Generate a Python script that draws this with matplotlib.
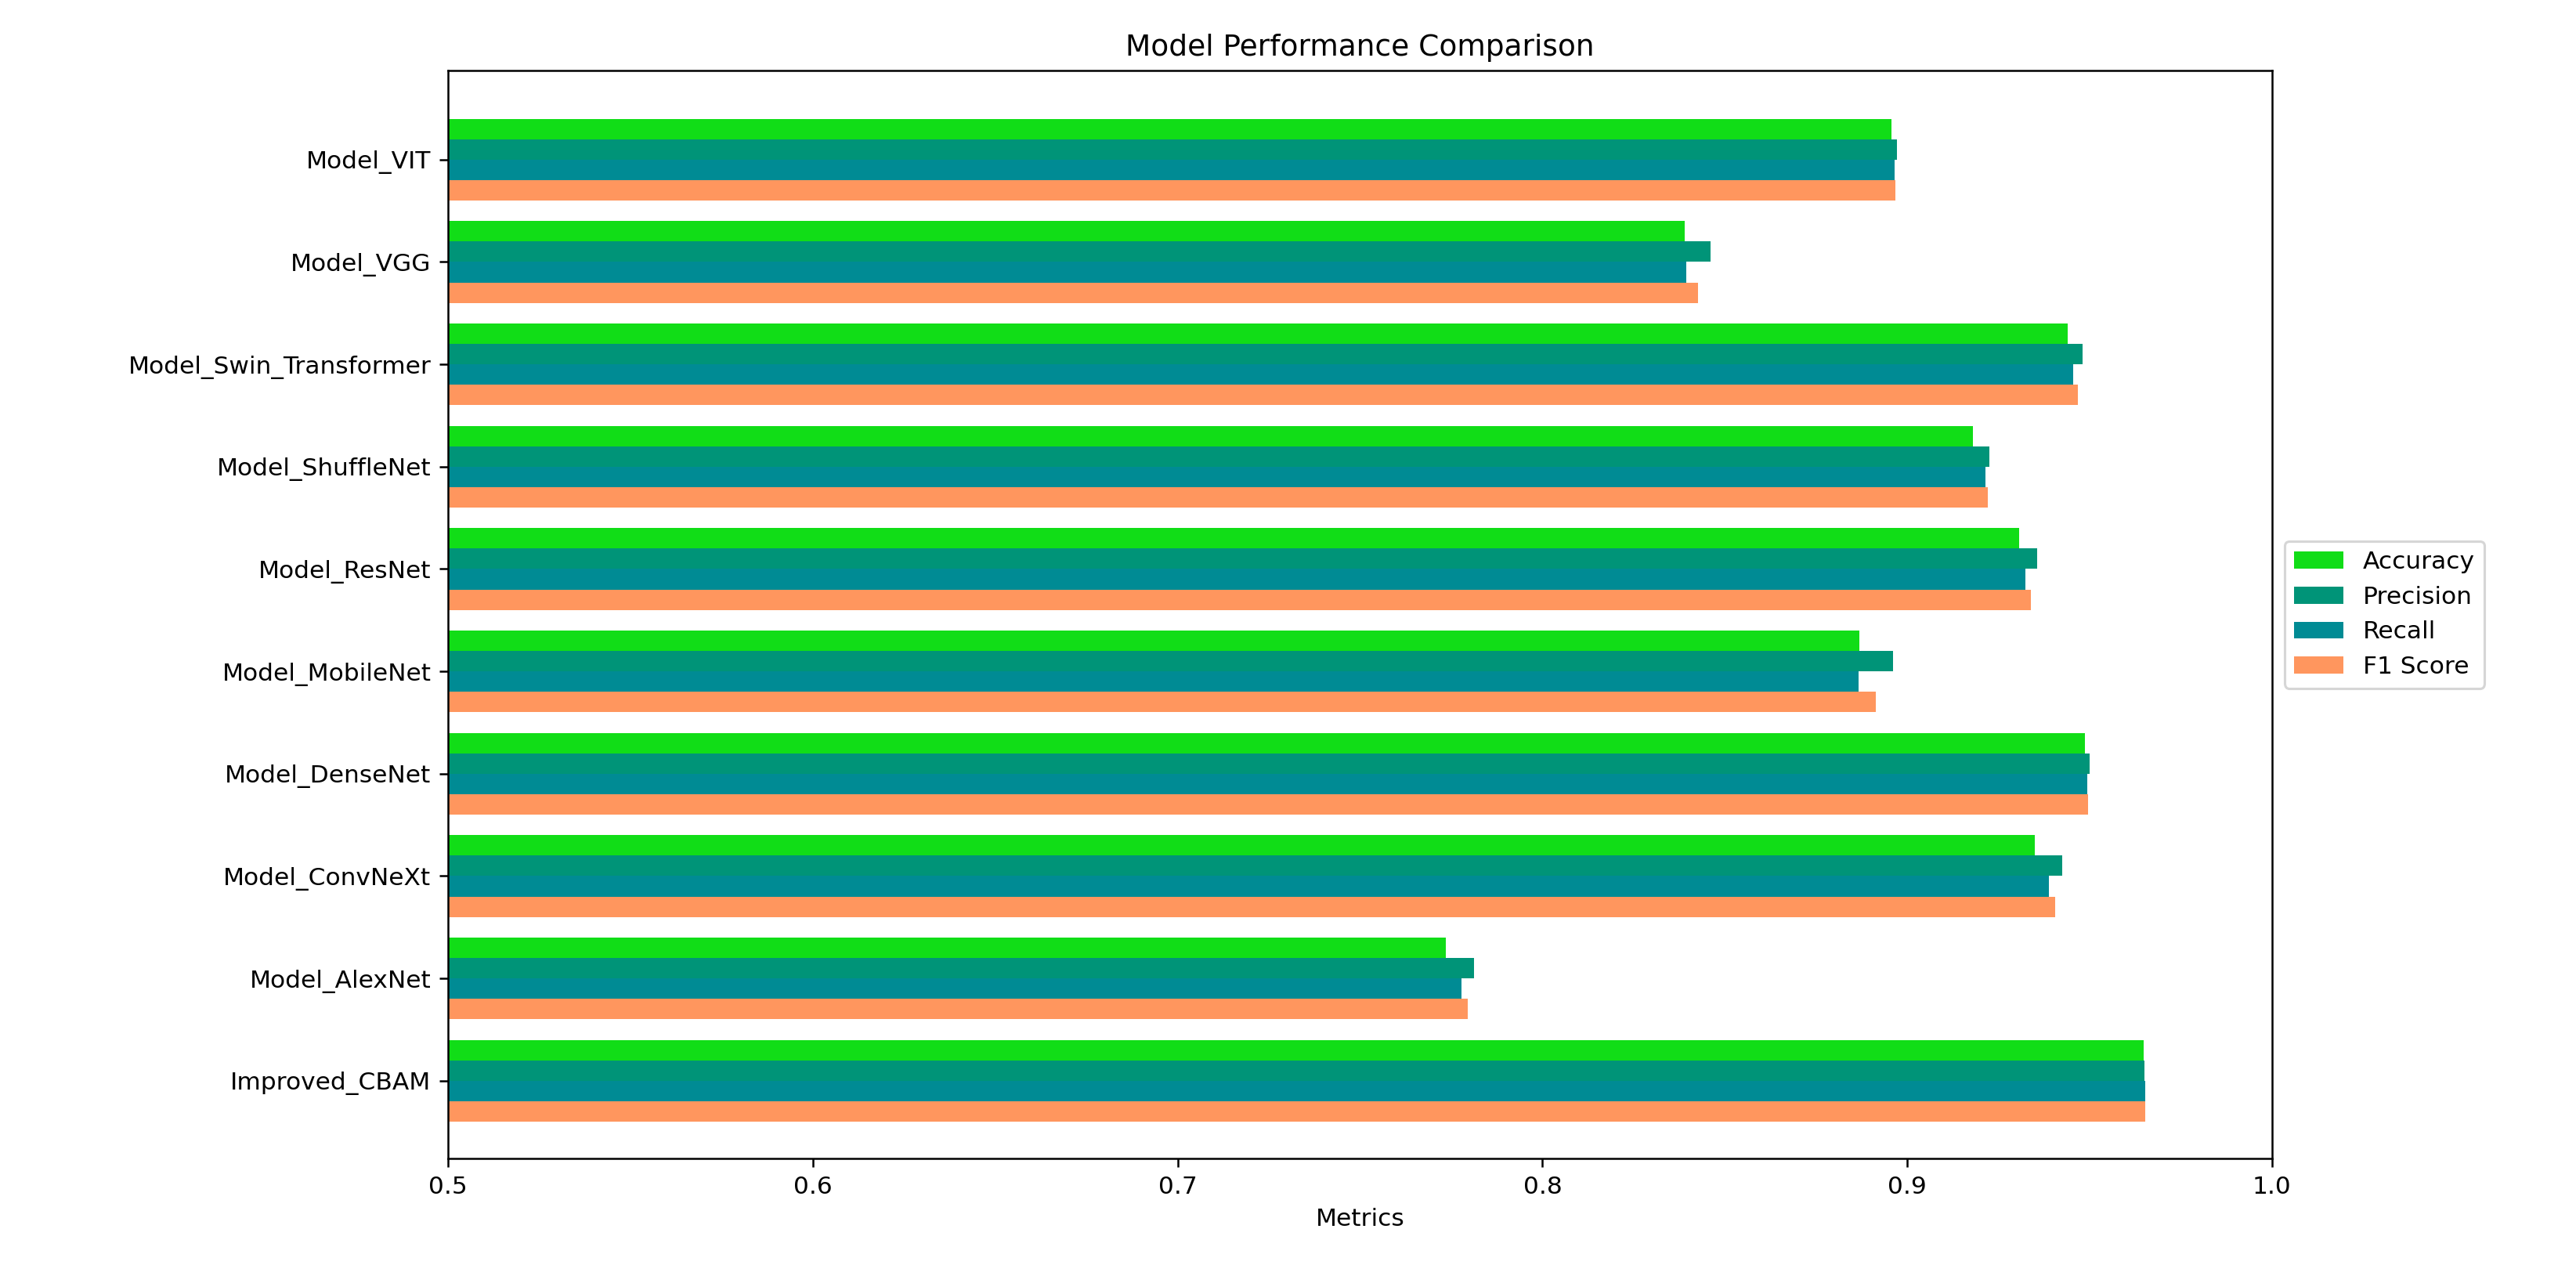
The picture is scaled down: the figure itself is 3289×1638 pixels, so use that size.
import matplotlib
matplotlib.use("Agg")
import matplotlib.pyplot as plt
import numpy as np

models = ["Improved_CBAM", "Model_AlexNet", "Model_ConvNeXt", "Model_DenseNet",
          "Model_MobileNet", "Model_ResNet", "Model_ShuffleNet",
          "Model_Swin_Transformer", "Model_VGG", "Model_VIT"]
accuracy = [0.9648, 0.7735, 0.9350, 0.9487, 0.8868, 0.9306, 0.9180, 0.9440, 0.8390, 0.8956]
precision = [0.9650, 0.7813, 0.9424, 0.9500, 0.8960, 0.9356, 0.9226, 0.9480, 0.8460, 0.8971]
recall = [0.9652, 0.7778, 0.9388, 0.9493, 0.8866, 0.9323, 0.9214, 0.9455, 0.8395, 0.8965]
f1 = [0.9652, 0.7796, 0.9406, 0.9496, 0.8913, 0.9339, 0.9220, 0.9467, 0.8427, 0.8968]

series = [("Accuracy", accuracy, "#11dd17"),
          ("Precision", precision, "#009478"),
          ("Recall", recall, "#008b94"),
          ("F1 Score", f1, "#ff965e")]

def main():
  fig = plt.figure(figsize=(3289/225, 1638/225), dpi=225)
  ax = fig.add_axes([0.174, 0.097, 0.708, 0.848])
  y = np.arange(len(models))
  h = 0.2
  offsets = [0.3, 0.1, -0.1, -0.3]
  for (name, vals, c), off in zip(series, offsets):
    ax.barh(y + off, vals, height=h, color=c, label=name)
  ax.set_yticks(y)
  ax.set_yticklabels(models)
  ax.set_xlim(0.5, 1.0)
  ax.set_ylim(-0.76, 9.87)
  ax.set_xlabel("Metrics")
  ax.set_title("Model Performance Comparison")
  ax.legend(loc="center left", bbox_to_anchor=(1.0, 0.5))
  fig.savefig("out.png", dpi=225)

if __name__ == '__main__':
  main()
